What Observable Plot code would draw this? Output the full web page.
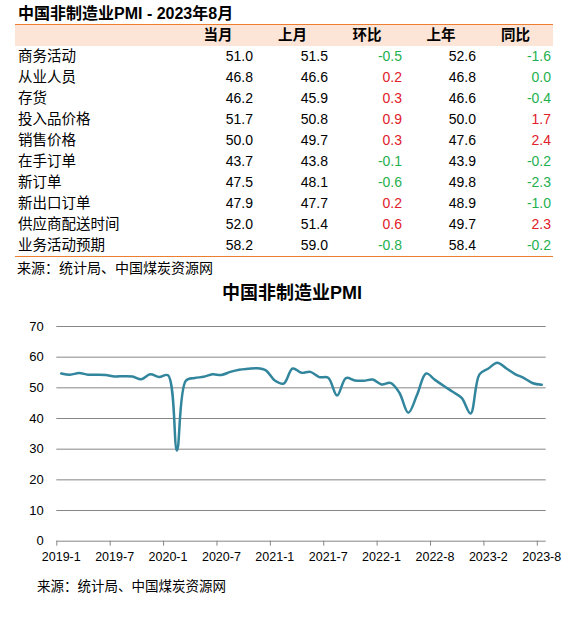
<!DOCTYPE html>
<html>
<head>
<meta charset="utf-8">
<script src="https://cdn.jsdelivr.net/npm/d3@7"></script>
<script src="https://cdn.jsdelivr.net/npm/@observablehq/plot@0.6"></script>
<style>
  body { margin: 0; background: #fff; }
  #page { position: relative; width: 568px; height: 634px; font-family: "Liberation Sans", "Noto Sans CJK SC", sans-serif; color: #000; }
  #ttl { position: absolute; left: 18px; top: 3px; font-size: 16px; font-weight: bold; line-height: 22px; }
  #tbl { position: absolute; left: 15px; top: 24px; width: 538px; border-collapse: collapse; table-layout: fixed;
         border-top: 1.5px solid #ED7D31; border-bottom: 1.5px solid #ED7D31; }
  #tbl td, #tbl th { height: 21px; padding: 0 2px 0 0; font-size: 14px; line-height: 21px; white-space: nowrap; }
  #tbl th { background: #FCE4D6; font-weight: bold; text-align: center; font-size: 14.5px; padding: 0; }
  #tbl td { text-align: right; }
  #tbl td.lab { text-align: left; padding-left: 3px; font-size: 14.5px; }
  #src1 { position: absolute; left: 17px; top: 259px; font-size: 14px; line-height: 18px; }
  #ctitle { position: absolute; left: 0; width: 584px; top: 282px; text-align: center; font-size: 18px; font-weight: bold; line-height: 22px; }
  #chart { position: absolute; left: 0; top: 305px; }
  #src2 { position: absolute; left: 37px; top: 578px; font-size: 13.5px; line-height: 18px; }
</style>
</head>
<body>
<div id="page">
  <div id="ttl">中国非制造业PMI - 2023年8月</div>
  <table id="tbl"></table>
  <div id="src1">来源：统计局、中国煤炭资源网</div>
  <div id="ctitle">中国非制造业PMI</div>
  <div id="chart"></div>
  <div id="src2">来源：统计局、中国煤炭资源网</div>
</div>
<script>
// 表格数据
const colNames = ["当月", "上月", "环比", "上年", "同比"];
const items = ["商务活动", "从业人员", "存货", "投入品价格", "销售价格", "在手订单", "新订单", "新出口订单", "供应商配送时间", "业务活动预期"];
const thisMonth = [51.0, 46.8, 46.2, 51.7, 50.0, 43.7, 47.5, 47.9, 52.0, 58.2];
const lastMonth = [51.5, 46.6, 45.9, 50.8, 49.7, 43.8, 48.1, 47.7, 51.4, 59.0];
const mom = [-0.5, 0.2, 0.3, 0.9, 0.3, -0.1, -0.6, 0.2, 0.6, -0.8];
const lastYear = [52.6, 46.8, 46.6, 50.0, 47.6, 43.9, 49.8, 48.9, 49.7, 58.4];
const yoy = [-1.6, 0.0, -0.4, 1.7, 2.4, -0.2, -2.3, -1.0, 2.3, -0.2];

// 折线数据 (2022-7 缺失)
const months = [
  "2019-1", "2019-2", "2019-3", "2019-4", "2019-5", "2019-6", "2019-7", "2019-8", "2019-9", "2019-10", "2019-11", "2019-12",
  "2020-1", "2020-2", "2020-3", "2020-4", "2020-5", "2020-6", "2020-7", "2020-8", "2020-9", "2020-10", "2020-11", "2020-12",
  "2021-1", "2021-2", "2021-3", "2021-4", "2021-5", "2021-6", "2021-7", "2021-8", "2021-9", "2021-10", "2021-11", "2021-12",
  "2022-1", "2022-2", "2022-3", "2022-4", "2022-5", "2022-6", "2022-8", "2022-9", "2022-10", "2022-11", "2022-12",
  "2023-1", "2023-2", "2023-3", "2023-4", "2023-5", "2023-6", "2023-7", "2023-8"
];
const pmi = [
  54.7, 54.3, 54.8, 54.3, 54.3, 54.2, 53.7, 53.8, 53.7, 52.8, 54.4, 53.5,
  54.1, 29.6, 52.3, 53.2, 53.6, 54.4, 54.2, 55.2, 55.9, 56.2, 56.4, 55.7,
  52.4, 51.4, 56.3, 54.9, 55.2, 53.5, 53.3, 47.5, 53.2, 52.4, 52.3, 52.7,
  51.1, 51.6, 48.4, 41.9, 47.8, 54.7, 52.6, 50.6, 48.7, 46.7, 41.6,
  54.4, 56.3, 58.2, 56.4, 54.5, 53.2, 51.5, 51.0
];
const xLabels = ["2019-1", "2019-7", "2020-1", "2020-7", "2021-1", "2021-7", "2022-1", "2022-8", "2023-2", "2023-8"];
const yTicks = [0, 10, 20, 30, 40, 50, 60, 70];

// 表格
const cols = [thisMonth, lastMonth, mom, lastYear, yoy];
const colored = [false, false, true, false, true];
const tbl = d3.select("#tbl");
const cg = tbl.append("colgroup");
[166, 74, 75, 74, 74, 75].forEach(w => cg.append("col").style("width", w + "px"));
const hr = tbl.append("tr");
hr.append("th");
colNames.forEach(c => hr.append("th").text(c));
items.forEach((name, r) => {
  const tr = tbl.append("tr");
  tr.append("td").attr("class", "lab").text(name);
  cols.forEach((col, c) => {
    const v = col[r];
    tr.append("td")
      .style("color", colored[c] ? (v > 0 ? "#E0202A" : "#1FB050") : "#000")
      .text(v.toFixed(1));
  });
});

// 折线图
const data = pmi.map((v, i) => ({i, v}));
const tickIdx = xLabels.map(l => months.indexOf(l));

const chart = Plot.plot({
  width: 568,
  height: 266,
  marginTop: 21,
  marginBottom: 30.3,
  marginLeft: 56.3,
  marginRight: 22.3,
  x: {domain: [-0.5, months.length - 0.5], label: null},
  y: {domain: [0, 70], label: null},
  style: {fontFamily: "'Liberation Sans', 'Noto Sans CJK SC', sans-serif", fontSize: "13px", color: "#000", background: "white"},
  marks: [
    Plot.gridY(yTicks, {stroke: "#868686", strokeOpacity: 1, strokeWidth: 1}),
    Plot.axisY(yTicks, {tickSize: 0, tickPadding: 13, label: null, fontSize: 13}),
    Plot.axisX(tickIdx.map(i => i - 0.5), {tickSize: 5, stroke: "#868686", tickFormat: () => "", label: null}),
    Plot.axisX(tickIdx, {tickSize: 0, tickPadding: 11, tickFormat: i => months[i], label: null, fontSize: 12.5}),
    Plot.line(data, {x: "i", y: "v", curve: "catmull-rom", stroke: "#31859C", strokeWidth: 2.5})
  ]
});
d3.select("#chart").append(() => chart);
</script>
</body>
</html>
